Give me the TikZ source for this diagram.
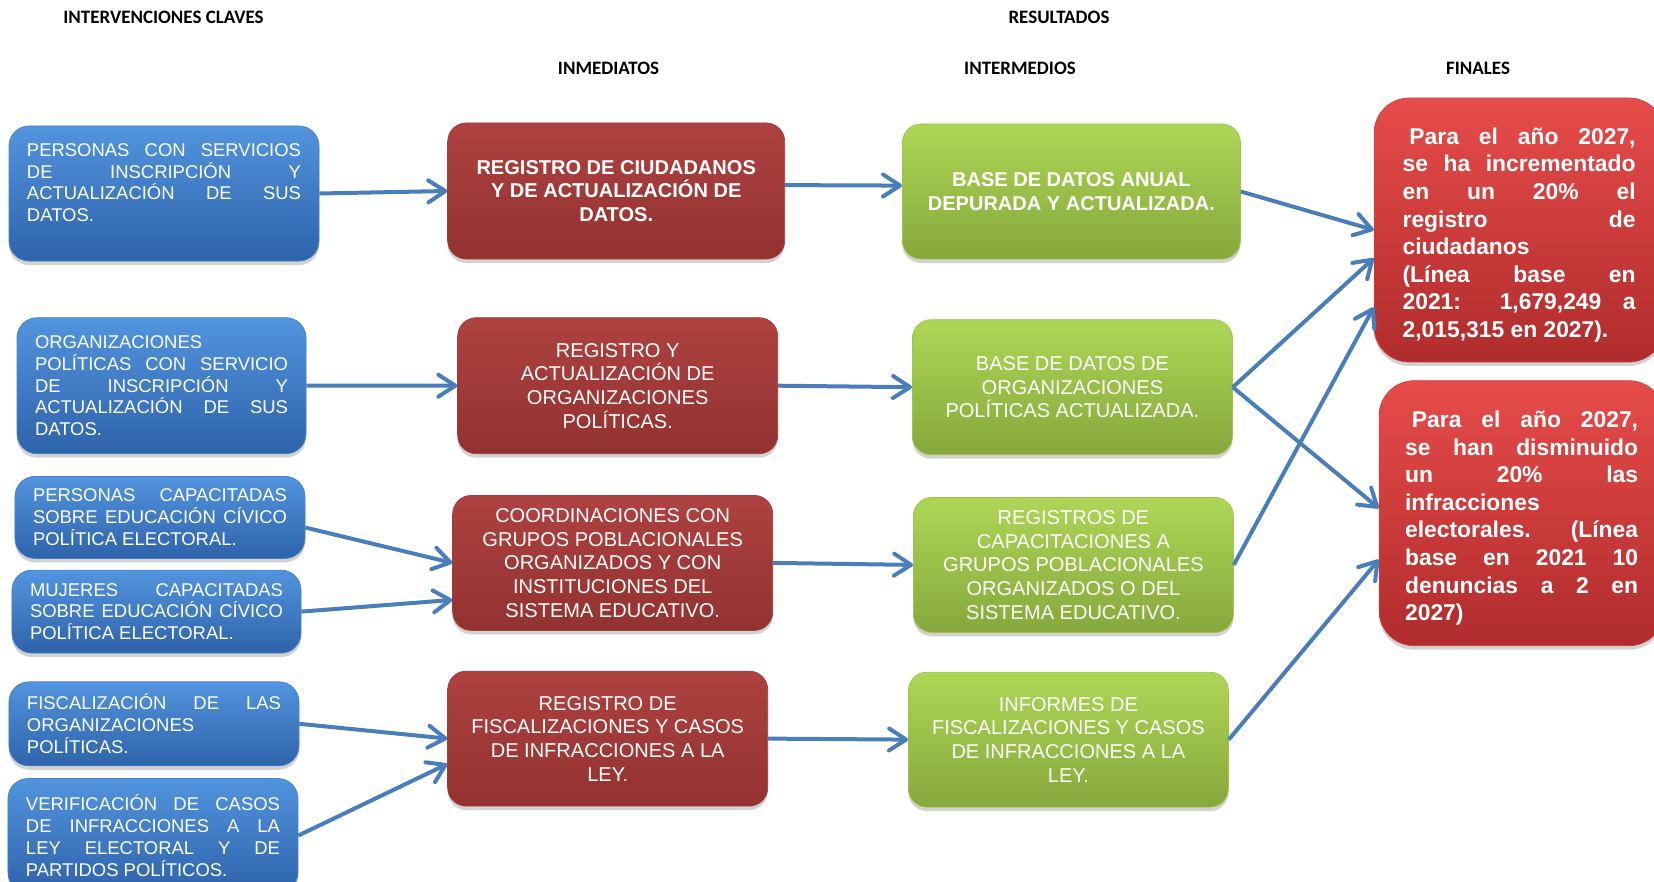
\documentclass[tikz,border=0pt]{standalone}
\usepackage{fontspec}
\setmainfont{Liberation Sans}
\newfontfamily\headfont{Carlito}
\usepackage{tikz}
\usetikzlibrary{positioning}
\usetikzlibrary{arrows.meta}
\usetikzlibrary{shadows}
\usepackage{xcolor}
\definecolor{azulA}{RGB}{82,148,222}
\definecolor{azulB}{RGB}{46,99,170}
\definecolor{rojoA}{RGB}{174,66,64}
\definecolor{rojoB}{RGB}{146,50,48}
\definecolor{verdeA}{RGB}{174,214,86}
\definecolor{verdeB}{RGB}{134,168,60}
\definecolor{finA}{RGB}{230,76,74}
\definecolor{finB}{RGB}{176,44,44}
\definecolor{flechac}{RGB}{74,126,187}
\newcommand{\justo}{\tolerance=10000\hbadness=10000\hyphenpenalty=10000}

\begin{document}
\begin{tikzpicture}[
  head/.style={font=\headfont\fontsize{10.8}{13}\selectfont\bfseries, inner sep=0pt},
  sombra/.style={drop shadow={shadow xshift=0cm, shadow yshift=-0.08cm, opacity=0.25, fill=black!70}},
  interv/.style={sombra, rounded corners=0.4cm, top color=azulA, bottom color=azulB, draw=azulA!60!azulB, thin, text=white, align=justify, inner xsep=0.36cm, inner ysep=0.1cm, font=\fontsize{10.5}{12.4}\selectfont\justo},
  inmed/.style={sombra, rounded corners=0.37cm, top color=rojoA, bottom color=rojoB, draw=rojoA!60!rojoB, thin, text=white, align=center, minimum width=6.4cm, minimum height=2.72cm, font=\fontsize{11.4}{13.5}\selectfont},
  interm/.style={sombra, rounded corners=0.37cm, top color=verdeA, bottom color=verdeB, draw=verdeA!60!verdeB, thin, text=white, align=center, minimum width=6.4cm, minimum height=2.7cm, font=\fontsize{11.4}{13.5}\selectfont},
  final/.style={sombra, rounded corners=0.7cm, top color=finA, bottom color=finB, draw=finA!60!finB, thin, text=white, align=justify, text width=4.66cm, font=\fontsize{13}{15.7}\selectfont\bfseries\justo},
  flecha/.style={-{Straight Barb[length=0.34cm, width=0.44cm, round]}, line width=0.08cm, draw=flechac}
]
\useasboundingbox (0,0) rectangle (33.08,-17.64);

\node[head] (hint) at (3.27,-0.34) {INTERVENCIONES CLAVES};
\node[head] (hres) at (21.18,-0.34) {RESULTADOS};
\node[head] (hinm) at (12.17,-1.36) {INMEDIATOS};
\node[head] (hmed) at (20.4,-1.36) {INTERMEDIOS};
\node[head] (hfin) at (29.56,-1.36) {FINALES};

\node[interv, text width=5.48cm, minimum height=2.7cm] (pers) at (3.28,-3.87) {PERSONAS CON SERVICIOS\linebreak DE INSCRIPCIÓN Y\linebreak ACTUALIZACIÓN DE SUS\linebreak DATOS.\par\mbox{}};
\node[interv, text width=5.06cm, minimum height=2.72cm, below=1.12cm of pers, xshift=-0.05cm] (orgs) {ORGANIZACIONES\linebreak POLÍTICAS CON SERVICIO\linebreak DE INSCRIPCIÓN Y\linebreak ACTUALIZACIÓN DE SUS\linebreak DATOS.};
\node[interv, text width=5.08cm, minimum height=1.64cm, below=0.44cm of orgs, xshift=-0.03cm] (capa) {PERSONAS CAPACITADAS\linebreak SOBRE EDUCACIÓN CÍVICO\linebreak POLÍTICA ELECTORAL.};
\node[interv, text width=5.06cm, minimum height=1.66cm, below=0.22cm of capa, xshift=-0.07cm] (muj) {MUJERES CAPACITADAS\linebreak SOBRE EDUCACIÓN CÍVICO\linebreak POLÍTICA ELECTORAL.};
\node[interv, text width=5.08cm, minimum height=1.68cm, below=0.56cm of muj, xshift=-0.05cm] (fisc) {FISCALIZACIÓN DE LAS\linebreak ORGANIZACIONES\linebreak POLÍTICAS.};
\node[interv, text width=5.08cm, minimum height=2.28cm, below=0.24cm of fisc, xshift=-0.02cm] (verif) {VERIFICACIÓN DE CASOS\linebreak DE INFRACCIONES A LA\linebreak LEY ELECTORAL Y DE\linebreak PARTIDOS POLÍTICOS.};

\node[inmed, minimum width=6.74cm, font=\fontsize{11.4}{13.5}\selectfont\bfseries, right=2.56cm of pers, yshift=0.05cm] (regc) {REGISTRO DE CIUDADANOS\\Y DE ACTUALIZACIÓN DE\\DATOS.};
\node[inmed, below=1.16cm of regc, xshift=0.03cm] (rego) {REGISTRO Y\\ACTUALIZACIÓN DE\\ORGANIZACIONES\\POLÍTICAS.};
\node[inmed, minimum height=2.7cm, below=0.82cm of rego, xshift=-0.1cm] (coord) {COORDINACIONES CON\\GRUPOS POBLACIONALES\\ORGANIZADOS Y CON\\INSTITUCIONES DEL\\SISTEMA EDUCATIVO.};
\node[inmed, minimum height=2.7cm, below=0.8cm of coord, xshift=-0.1cm] (regf) {REGISTRO DE\\FISCALIZACIONES Y CASOS\\DE INFRACCIONES A LA\\LEY.};

\node[interm, minimum width=6.76cm, font=\fontsize{11.4}{13.5}\selectfont\bfseries, right=2.34cm of regc, yshift=-0.01cm] (based) {BASE DE DATOS ANUAL\\DEPURADA Y ACTUALIZADA.};
\node[interm, below=1.2cm of based, xshift=0.02cm] (baseo) {BASE DE DATOS DE\\ORGANIZACIONES\\POLÍTICAS ACTUALIZADA.};
\node[interm, below=0.84cm of baseo, xshift=0.02cm] (regcap) {REGISTROS DE\\CAPACITACIONES A\\GRUPOS POBLACIONALES\\ORGANIZADOS O DEL\\SISTEMA EDUCATIVO.};
\node[interm, below=0.78cm of regcap, xshift=-0.1cm] (infor) {INFORMES DE\\FISCALIZACIONES Y CASOS\\DE INFRACCIONES A LA\\LEY.};

\node[final, minimum width=5.8cm, minimum height=5.28cm, right=2.66cm of based, yshift=-0.77cm] (fin1) {\hspace*{0.3em}Para el año 2027,\linebreak se ha incrementado\linebreak en un 20\% el\linebreak registro de\linebreak ciudadanos\linebreak (Línea base en\linebreak 2021: 1,679,249 a\linebreak 2,015,315 en 2027).\par\vspace{-0.2cm}};
\node[final, minimum width=5.7cm, minimum height=5.3cm, below=0.36cm of fin1, xshift=0.05cm] (fin2) {\hspace*{0.3em}Para el año 2027,\linebreak se han disminuido\linebreak un 20\% las\linebreak infracciones\linebreak electorales. (Línea\linebreak base en 2021 10\linebreak denuncias a 2 en\linebreak 2027)\par\vspace{-0.2cm}};

\draw[flecha] (pers.east) -- (regc.west);
\draw[flecha] (orgs.east) -- (rego.west);
\draw[flecha] (capa.-4) -- (coord.west);
\draw[flecha] (muj.east) -- (coord.193);
\draw[flecha] (fisc.east) -- (regf.west);
\draw[flecha] (verif.east) -- (regf.189);

\draw[flecha] (regc.2) -- (based.178);
\draw[flecha] (rego.east) -- (baseo.west);
\draw[flecha] (coord.east) -- (regcap.west);
\draw[flecha] (regf.east) -- (infor.west);

\draw[flecha] (based.east) -- (fin1.west);
\draw[flecha] (baseo.east) -- (fin1.191);
\draw[flecha] (baseo.east) -- (fin2.178);
\draw[flecha] (regcap.east) -- (fin1.208);
\draw[flecha] (infor.east) -- (fin2.198);

\end{tikzpicture}
\end{document}
